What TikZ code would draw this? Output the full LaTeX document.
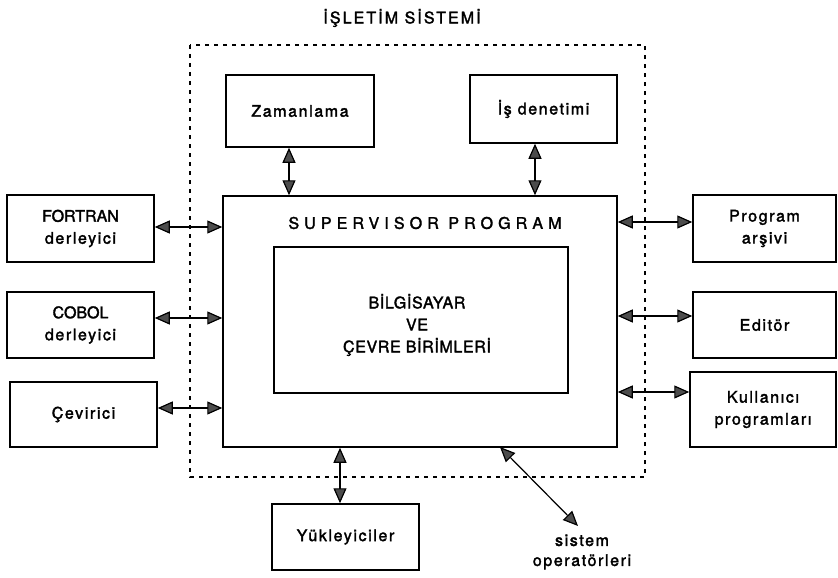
\documentclass[tikz,border=0pt]{standalone}
\usepackage{fontspec}
\setmainfont{TeX Gyre Heros}[FakeBold=2]
\newfontfamily\titlefont{TeX Gyre Heros}[LetterSpace=13,FakeBold=2]
\newfontfamily\supfont{TeX Gyre Heros}[LetterSpace=32,FakeBold=2]
\newfontfamily\lsfont{TeX Gyre Heros}[LetterSpace=10,FakeBold=2]
\newfontfamily\inlfont{TeX Gyre Heros}[LetterSpace=4,FakeBold=2]
\usetikzlibrary{arrows.meta}
\tikzset{
  box/.style 2 args={draw, line width=1.5pt, inner sep=0pt, minimum width=#1, minimum height=#2, align=center, font=\lsfont\fontsize{16}{22}\selectfont},
  biarrow/.style={line width=1.2pt, {Triangle[length=15pt,width=13pt,fill=black!70]}-{Triangle[length=15pt,width=13pt,fill=black!70]}},
  dashbox/.style={line width=1.6pt, dash pattern=on 4pt off 5pt},
  lbl/.style={align=center, font=\lsfont\fontsize{16}{20}\selectfont}
}
\begin{document}
\begin{tikzpicture}[x=1pt,y=-1pt]
\useasboundingbox[fill=white] (0,0) rectangle (838,578);
% dashed operating system boundary
\draw[dashbox] (190,45) rectangle (645,477);
\node[font=\titlefont\fontsize{16}{18}\selectfont] (title) at (402,18) {İŞLETİM SİSTEMİ};
% central boxes
\node[box={394pt}{251pt}, fill=white] (sup) at (420,321.5) {};
\node[font=\supfont\fontsize{16}{18}\selectfont] (suplbl) at (425,223) {SUPERVISOR PROGRAM};
\node[box={294pt}{146pt}] (inner) at (421,320) {};
\node[align=center, font=\inlfont\fontsize{16}{22}\selectfont] (innerlbl) at (417,325) {BİLGİSAYAR\\VE\\ÇEVRE BİRİMLERİ};
% top boxes
\node[box={148pt}{72pt}, fill=white] (zam) at (300,111) {Zamanlama};
\node[box={147pt}{68pt}, fill=white] (isd) at (543.5,109) {İş denetimi};
% left boxes
\node[box={147pt}{67pt}] (fort) at (80.5,228.5) {\rmfamily FORTRAN\\derleyici};
\node[box={147pt}{66pt}] (cob) at (80.5,325) {\rmfamily COBOL\\derleyici};
\node[box={147pt}{65pt}] (cev) at (83.5,414.5) {Çevirici};
% right boxes
\node[box={143pt}{67pt}] (prog) at (764.5,228.5) {Program\\arşivi};
\node[box={143pt}{66pt}] (edit) at (764.5,325) {Editör};
\node[box={146pt}{75pt}] (kul) at (763,409.5) {Kullanıcı\\programları};
% bottom
\node[box={147pt}{66pt}, fill=white] (yuk) at (345.5,537) {Yükleyiciler};
\node[lbl] (sis) at (582,552) {sistem\\operatörleri};
% helper coordinates
\coordinate (zx) at (289,0);
\coordinate (ix) at (535,0);
\coordinate (yx) at (340,0);
\coordinate (ly1) at (0,227);
\coordinate (ly2) at (0,318);
\coordinate (ly3) at (0,408);
\coordinate (ry1) at (0,222);
\coordinate (ry2) at (0,316);
\coordinate (ry3) at (0,392);
\coordinate (dstart) at (500,447);
\coordinate (dend) at (578,526);
% connectors
\draw[biarrow] (zx |- zam.south) -- (zx |- sup.north);
\draw[biarrow] (ix |- isd.south) -- (ix |- sup.north);
\draw[biarrow] (ly1 -| fort.east) -- (ly1 -| sup.west);
\draw[biarrow] (ly2 -| cob.east) -- (ly2 -| sup.west);
\draw[biarrow] (ly3 -| cev.east) -- (ly3 -| sup.west);
\draw[biarrow] (ry1 -| sup.east) -- (ry1 -| prog.west);
\draw[biarrow] (ry2 -| sup.east) -- (ry2 -| edit.west);
\draw[biarrow] (ry3 -| sup.east) -- (ry3 -| kul.west);
\draw[biarrow] (yx |- sup.south) -- (yx |- yuk.north);
\draw[biarrow] (dstart) -- (dend);
\end{tikzpicture}
\end{document}
